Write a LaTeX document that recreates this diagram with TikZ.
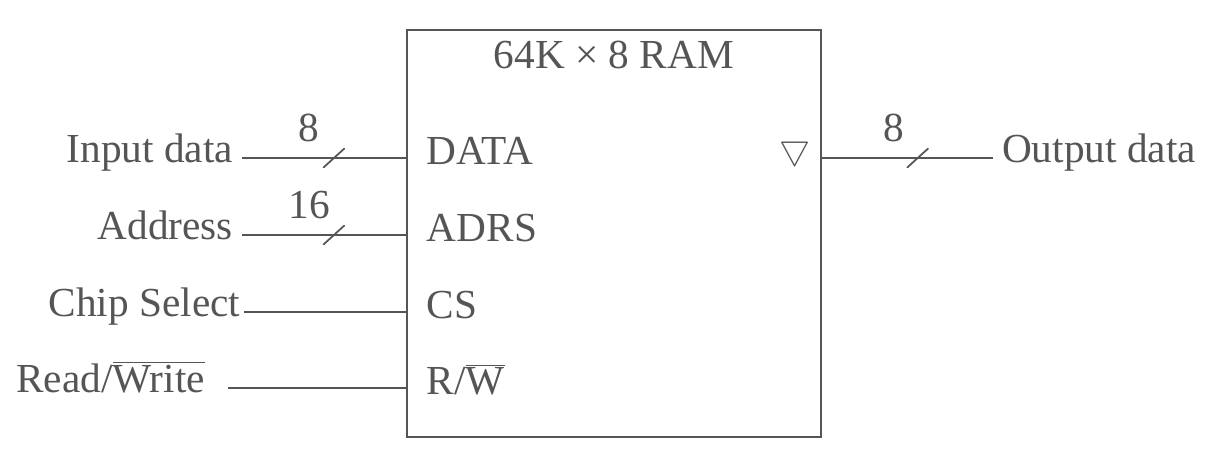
\documentclass[tikz,border=0pt]{standalone}
\usepackage{fontspec}
\setmainfont{Liberation Serif}
\usepackage{tikz}
\usetikzlibrary{positioning, calc}
\definecolor{cInk}{HTML}{555555}
\tikzstyle{lbl}     = [inner sep=2pt, text height=0.5em, text depth=0pt, text=cInk, font=\fontsize{23.5}{28}\selectfont]
\tikzstyle{siglbl}  = [lbl, inner xsep=5pt]
\tikzstyle{chip}    = [rectangle, draw=cInk, line width=1pt, minimum width=8.28cm, minimum height=8.14cm]
\tikzstyle{sig}     = [draw=cInk, line width=1pt]
\tikzstyle{busmark} = [inner sep=0pt, minimum width=0.44cm, minimum height=0.4cm,
  path picture={\draw[sig] (path picture bounding box.south west) -- (path picture bounding box.north east);}]
\tikzstyle{buswd}   = [lbl, above=0.25cm]
\begin{document}
\begin{tikzpicture}[x=0.02cm, y=-0.02cm]
\useasboundingbox (0,0) rectangle (1228,473);
\node (ram) [chip] at (614,233.5) {};
\node (title) [lbl] at (614,64) {64K × 8 RAM};
\node (dpin) [lbl, anchor=west] at (423,160) {DATA};
\node (apin) [lbl, anchor=west] at (423,237) {ADRS};
\node (cspin) [lbl, anchor=west] at (423,314) {CS};
\node (rwpin) [lbl, anchor=west] at (423,390) {R/$\overline{\mbox{W}}$};
\node (tri) [lbl, scale=0.8] at (795,156) {$\bigtriangledown$};

\node (inlbl) [siglbl, anchor=east] at (242,158) {Input data};
\node (adlbl) [siglbl, anchor=east] at (242,235) {Address};
\node (cslbl) [siglbl, inner xsep=2pt, anchor=east] at (244,312) {Chip Select};
\node (rwlbl) [siglbl, anchor=east] at (214,388) {Read/$\overline{\mbox{Write}}$};
\node (outlbl) [siglbl, anchor=west] at (993,158) {Output data};

\draw [sig] (inlbl) -- node[pos=0.56, busmark]{} node[pos=0.41, buswd]{8} (inlbl -| ram.west);
\draw [sig] (adlbl) -- node[pos=0.56, busmark]{} node[pos=0.41, buswd]{16} (adlbl -| ram.west);
\draw [sig] (cslbl) -- (cslbl -| ram.west);
\draw [sig] ([xshift=0.28cm]rwlbl.east) -- (rwlbl -| ram.west);
\draw [sig] (outlbl -| ram.east) -- node[pos=0.56, busmark]{} node[pos=0.42, buswd]{8} (outlbl);
\end{tikzpicture}
\end{document}
